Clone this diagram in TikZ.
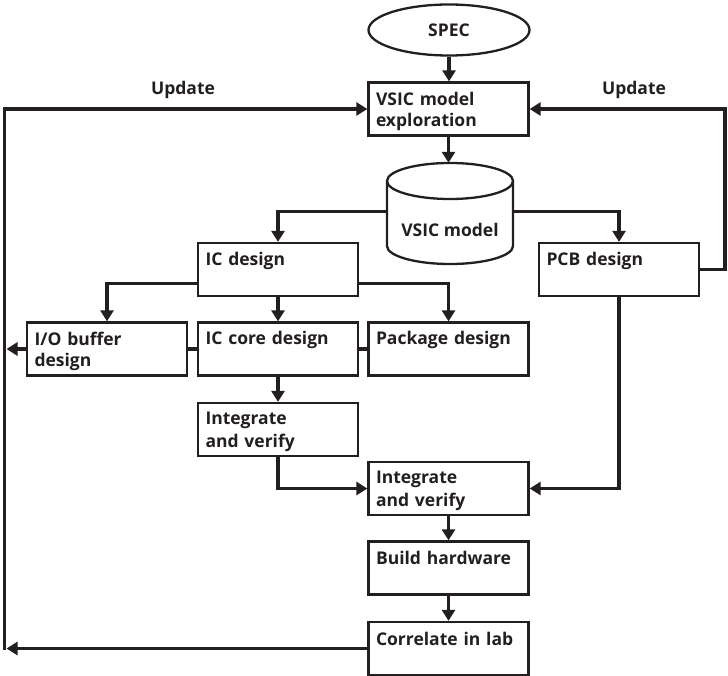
\documentclass[tikz,border=0pt]{standalone}
\usepackage{fontspec}
\setmainfont{Open Sans}
\usetikzlibrary{arrows.meta,shapes.geometric,calc}
\definecolor{ink}{RGB}{35,31,32}
% strut giving every text line the same height and depth
\newcommand\bxstrut{\rule[-3.5pt]{0pt}{21pt}}
\begin{document}
\begin{tikzpicture}[x=1pt,y=-1pt,
  every node/.style={font=\bfseries\fontsize{17.5}{21}\selectfont, text=ink},
  stepbox/.style={draw=ink, line width=2.3pt, rectangle, minimum width=160pt,
    minimum height=53pt, text width=145pt, inner xsep=7.5pt, inner ysep=0pt, align=left},
  outline/.style={draw=ink, line width=2.3pt},
  conn/.style={draw=ink, line width=3.3pt, line join=miter},
  arr/.style={conn, -{Triangle[length=11pt,width=13pt]}},
]
\useasboundingbox (0,0) rectangle (728,676);

% start of the flow
\node[ellipse, outline, minimum width=161pt, minimum height=51pt, inner sep=0pt] (spec) at (449,30) {SPEC};
\node[stepbox] (explore) at (448.5,109) {VSIC model\bxstrut\\exploration\bxstrut};

% model database drawn as a cylinder
\node[minimum width=126pt, minimum height=101pt, inner sep=0pt] (vsicm) at (450,213.5) {};
\draw[outline] (450,181) ellipse [x radius=63, y radius=18];
\draw[outline] (387,181) -- (387,246) arc[start angle=180, end angle=0, x radius=63, y radius=18] -- (513,181);
\node (vsicmtext) at (450,230) {VSIC model};

% design branches
\node[stepbox] (icd)  at (278,269.5)   {IC design\bxstrut\\\bxstrut};
\node[stepbox] (pcb)  at (619,269.5)   {PCB design\bxstrut\\\bxstrut};
\node[stepbox] (iob)  at (107,349)     {I/O buffer\bxstrut\\design\bxstrut};
\node[stepbox] (core) at (278,349)     {IC core design\bxstrut\\\bxstrut};
\node[stepbox] (pkg)  at (448.5,349)   {Package design\bxstrut\\\bxstrut};
\node[stepbox] (intl) at (278,429.5)   {Integrate\bxstrut\\and verify\bxstrut};
\node[stepbox] (intr) at (448.5,488.5) {Integrate\bxstrut\\and verify\bxstrut};
\node[stepbox] (build) at (448.5,568)  {Build hardware\bxstrut\\\bxstrut};
\node[stepbox] (corr) at (448.5,648.5) {Correlate in lab\bxstrut\\\bxstrut};

% feedback labels
\node (updl) at (183,90) {Update};
\node (updr) at (634,90) {Update};

% rails of the feedback loops
\coordinate (rtrail) at (725,0);
\coordinate (railtip) at (6.5,0);
\coordinate (railbot) at (4.5,650);

% forward connectors
\draw[arr] (spec.south) -- (spec.south |- explore.north);
\draw[arr] (explore.south) -- (explore.south |- vsicm.north);
\draw[arr] ($(vsicm.west)+(0,-2)$) -| (icd.north);
\draw[arr] ($(vsicm.east)+(0,-2)$) -| (pcb.north);
\draw[arr] ($(icd.south west)!0.25!(icd.north west)$) -| (iob.north);
\draw[arr] (icd.south) -- (core.north);
\draw[arr] ($(icd.south east)!0.25!(icd.north east)$) -| (pkg.north);
\draw[conn] (iob.east) -- (core.west);
\draw[conn] (core.east) -- (pkg.west);
\draw[arr] (core.south) -- (intl.north);
\draw[arr] (intl.south) |- (intr.west);
\draw[arr] (pcb.south) |- (intr.east);
\draw[arr] (intr.south) -- (build.north);
\draw[arr] (build.south) -- (corr.north);

% feedback connectors
\draw[arr] (pcb.east) -- (pcb.east -| rtrail) |- (explore.east);
\draw[arr] (iob.west) -- (iob.west -| railtip);
\draw[arr] (corr.west) -- (corr.west -| railtip);
\draw[arr] (railbot) |- (explore.west);
\end{tikzpicture}
\end{document}
